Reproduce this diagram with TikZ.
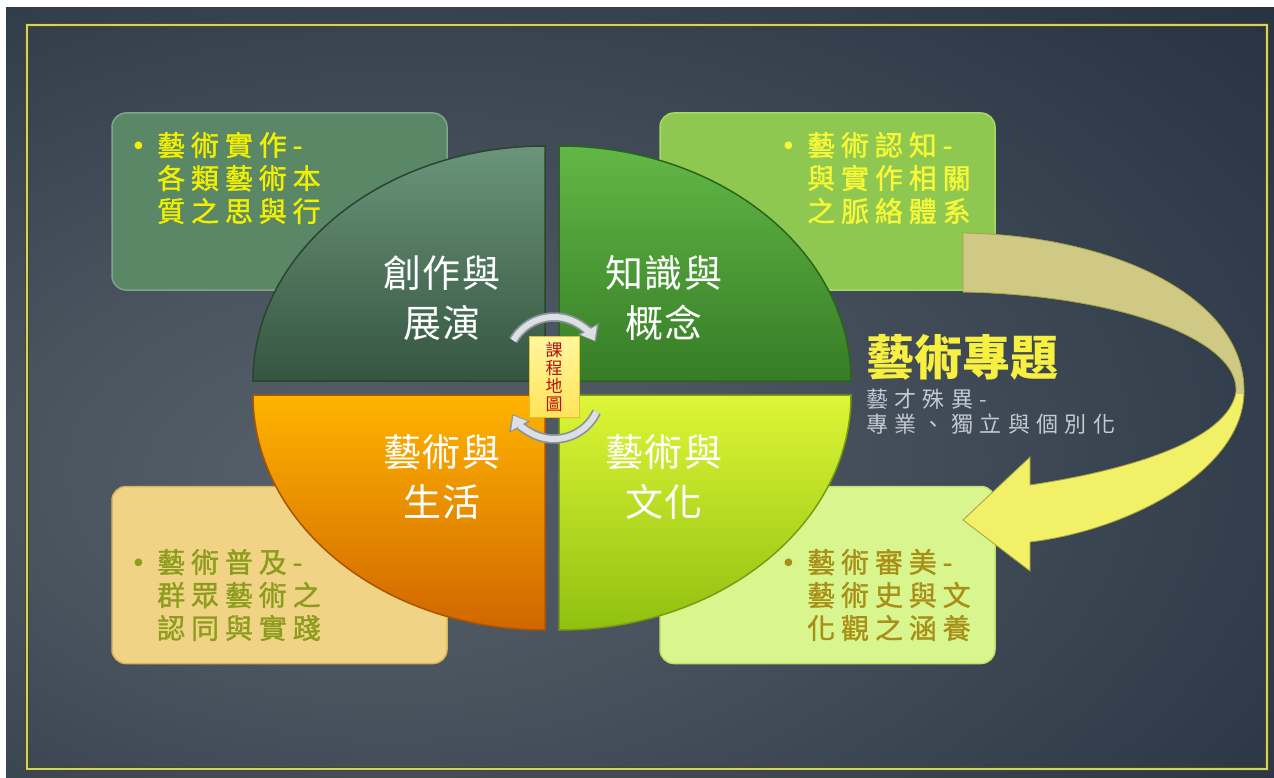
\documentclass[tikz,border=0pt]{standalone}
\usepackage{fontspec}
\setmainfont{Noto Sans CJK TC}
\newfontfamily\qfont[LetterSpace=5]{Noto Sans CJK TC}
\newfontfamily\bxfont[LetterSpace=21,FakeBold=1.2]{Noto Sans CJK TC}
\newfontfamily\subfont[LetterSpace=29]{Noto Sans CJK TC}
\newfontfamily\bulfont{DejaVu Sans}
\usetikzlibrary{arrows.meta}
\definecolor{bg0}{HTML}{56606A}
\definecolor{bg1}{HTML}{4A545F}
\definecolor{bg2}{HTML}{2E3A48}
\definecolor{bg3}{HTML}{1B2737}
\definecolor{framedark}{HTML}{4A4A18}
\definecolor{frameyel}{HTML}{D2D26A}
\definecolor{tlbox}{HTML}{5A8866}
\definecolor{tlboxb}{HTML}{7EA58A}
\definecolor{trbox}{HTML}{8EC850}
\definecolor{trboxb}{HTML}{A6D868}
\definecolor{blbox}{HTML}{F1D386}
\definecolor{blboxb}{HTML}{D9B45C}
\definecolor{brbox}{HTML}{D9F68E}
\definecolor{brboxb}{HTML}{C0E070}
\definecolor{tltext}{HTML}{F2F000}
\definecolor{trtext}{HTML}{F8F838}
\definecolor{bltext}{HTML}{8C9C1C}
\definecolor{brtext}{HTML}{A89018}
\definecolor{tltop}{HTML}{6A957A}
\definecolor{tlbot}{HTML}{355540}
\definecolor{tledge}{HTML}{2A4430}
\definecolor{trtop}{HTML}{62B846}
\definecolor{trbot}{HTML}{367C26}
\definecolor{tredge}{HTML}{2A641C}
\definecolor{bltop}{HTML}{FFB400}
\definecolor{blbot}{HTML}{D06600}
\definecolor{bledge}{HTML}{A85400}
\definecolor{brtop}{HTML}{DEF636}
\definecolor{brbot}{HTML}{90C010}
\definecolor{bredge}{HTML}{789C10}
\definecolor{arrowgray}{HTML}{DCE0E4}
\definecolor{arrowdark}{HTML}{8A929A}
\definecolor{maptop}{HTML}{FFF7A0}
\definecolor{mapbot}{HTML}{FFE45A}
\definecolor{mapedge}{HTML}{E0C030}
\definecolor{maptext}{HTML}{B81010}
\definecolor{ribtan}{HTML}{D0C986}
\definecolor{ribyel}{HTML}{F2F066}
\definecolor{ribedge}{HTML}{A8A040}
\definecolor{titleyel}{HTML}{F8F040}
\definecolor{subgray}{HTML}{C2CAD2}
\pgfdeclareradialshading{bgrad}{\pgfpoint{-12bp}{-6bp}}{color(0bp)=(bg0); color(14bp)=(bg1); color(36bp)=(bg2); color(54bp)=(bg3); color(95bp)=(bg3)}
\begin{document}
\begin{tikzpicture}[x=1pt,y=-1pt,
  infobox/.style={rectangle, rounded corners=14pt, line width=1.5pt, minimum width=335pt, minimum height=177pt, inner sep=0pt},
  boxtext/.style={anchor=west, align=left, inner sep=0pt, font=\bxfont\fontsize{28}{33}\selectfont},
  quadtext/.style={align=center, inner sep=0pt, text=white, font=\qfont\fontsize{38}{50}\selectfont},
  cycdark/.style={line width=9.5pt, draw=arrowdark, -{Triangle[length=15pt,width=23pt]}},
  cyclight/.style={line width=6pt, draw=arrowgray, -{Triangle[length=12pt,width=18pt]}}]
\useasboundingbox (0,0) rectangle (1274,778);
\fill[white] (0,0) rectangle (1274,778);
\shade[shading=bgrad] (6,8) rectangle (1274,778);
\draw[framedark, line width=4.5pt] (27,25) rectangle (1267,769);
\draw[frameyel, line width=2.5pt] (27,25) rectangle (1267,769);

% info boxes
\node[infobox, fill=tlbox, draw=tlboxb] (boxTL) at (279.5,201.5) {};
\node[infobox, fill=trbox, draw=trboxb] (boxTR) at (827.5,201.5) {};
\node[infobox, fill=blbox, draw=blboxb] (boxBL) at (279.5,575) {};
\node[infobox, fill=brbox, draw=brboxb] (boxBR) at (827.5,575) {};

\newcommand\bulletmark{\llap{\bulfont\fontsize{26}{26}\selectfont •\hspace{11pt}}}
\node[boxtext, text=tltext] (txtTL) at (157,178) {\bulletmark 藝術實作-\\各類藝術本\\質之思與行};
\node[boxtext, text=trtext] (txtTR) at (807,178) {\bulletmark 藝術認知-\\與實作相關\\之脈絡體系};
\node[boxtext, text=bltext] (txtBL) at (157,595) {\bulletmark 藝術普及-\\群眾藝術之\\認同與實踐};
\node[boxtext, text=brtext] (txtBR) at (807,595) {\bulletmark 藝術審美-\\藝術史與文\\化觀之涵養};

% quadrants
\shade[top color=tltop, bottom color=tlbot, draw=tledge, line width=1.5pt]
  (545,381) -- (253,381) .. controls (253,251.2) and (383.7,146) .. (545,146) -- cycle;
\shade[top color=trtop, bottom color=trbot, draw=tredge, line width=1.5pt]
  (559,381) -- (851,381) .. controls (851,251.2) and (720.3,146) .. (559,146) -- cycle;
\shade[top color=bltop, bottom color=blbot, draw=bledge, line width=1.5pt]
  (545,395) -- (253,395) .. controls (253,524.8) and (383.7,630) .. (545,630) -- cycle;
\shade[top color=brtop, bottom color=brbot, draw=bredge, line width=1.5pt]
  (559,395) -- (851,395) .. controls (851,524.8) and (720.3,630) .. (559,630) -- cycle;

\node[quadtext] (qTL) at (442,298) {創作與\\展演};
\node[quadtext] (qTR) at (664,298) {知識與\\概念};
\node[quadtext] (qBL) at (442,477) {藝術與\\生活};
\node[quadtext] (qBR) at (664,477) {藝術與\\文化};

% cycle arrows
\coordinate (ctop) at (554,364);
\coordinate (cbot) at (554,392);
\draw[cycdark] ([shift={(150:47pt)}]ctop) arc[start angle=150, end angle=28, radius=47pt];
\draw[cyclight] ([shift={(150:47pt)}]ctop) arc[start angle=150, end angle=30, radius=47pt];
\draw[cycdark] ([shift={(-25:47pt)}]cbot) arc[start angle=-25, end angle=-152, radius=47pt];
\draw[cyclight] ([shift={(-25:47pt)}]cbot) arc[start angle=-25, end angle=-150, radius=47pt];

% center label
\node[rectangle, top color=maptop, bottom color=mapbot, draw=mapedge, line width=1pt,
      minimum width=50pt, minimum height=81pt, inner sep=0pt, align=center,
      text=maptext, font=\fontsize{17}{18}\selectfont] (map) at (554,376.5) {課\\程\\地\\圖};

% ribbon arrow
\fill[ribyel] (963,233) .. controls (1120,236) and (1245,300) .. (1244,392)
  .. controls (1243,470) and (1130,530) .. (1030,542) -- (1030,571) -- (963,520) -- (1030,457) -- (1030,485)
  .. controls (1130,470) and (1228,440) .. (1236,392) .. controls (1240,340) and (1120,295) .. (963,292) -- cycle;
\begin{scope}
\clip (940,215) rectangle (1262,393);
\fill[ribtan] (963,233) .. controls (1120,236) and (1245,300) .. (1244,392)
  .. controls (1243,470) and (1130,530) .. (1030,542) -- (1030,571) -- (963,520) -- (1030,457) -- (1030,485)
  .. controls (1130,470) and (1228,440) .. (1236,392) .. controls (1240,340) and (1120,295) .. (963,292) -- cycle;
\end{scope}
\draw[ribedge, line width=0.8pt] (963,233) .. controls (1120,236) and (1245,300) .. (1244,392)
  .. controls (1243,470) and (1130,530) .. (1030,542) -- (1030,571) -- (963,520) -- (1030,457) -- (1030,485)
  .. controls (1130,470) and (1228,440) .. (1236,392) .. controls (1240,340) and (1120,295) .. (963,292) -- cycle;

% right texts
\node[anchor=west, inner sep=0pt, text=titleyel, font=\bfseries\fontsize{48}{48}\selectfont] (title) at (866,357) {藝術專題};
\node[anchor=west, inner sep=0pt, align=left, text=subgray, font=\subfont\fontsize{22}{25}\selectfont] (sub) at (866,411.5) {藝才殊異-\\專業、獨立與個別化};
\end{tikzpicture}
\end{document}
